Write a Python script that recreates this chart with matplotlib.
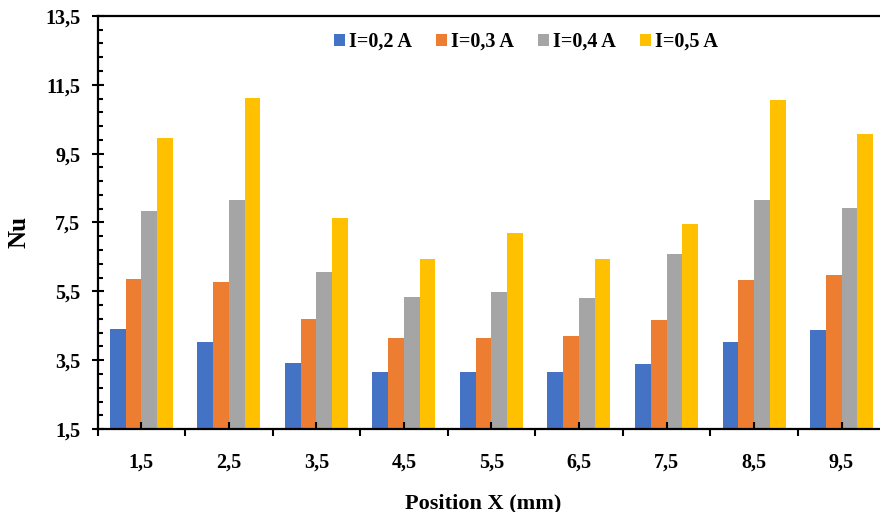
import numpy as np
import matplotlib.pyplot as plt
from matplotlib.ticker import FixedLocator, FuncFormatter

plt.rcParams['font.family'] = ['Liberation Serif', 'DejaVu Serif']
plt.rcParams['font.weight'] = 'bold'

positions = ['1,5', '2,5', '3,5', '4,5', '5,5', '6,5', '7,5', '8,5', '9,5']
labels = ['I=0,2 A', 'I=0,3 A', 'I=0,4 A', 'I=0,5 A']
nu_02 = [4.40, 4.04, 3.41, 3.17, 3.17, 3.17, 3.40, 4.03, 4.37]
nu_03 = [5.87, 5.76, 4.69, 4.15, 4.15, 4.19, 4.67, 5.83, 5.97]
nu_04 = [7.84, 8.14, 6.06, 5.34, 5.49, 5.30, 6.57, 8.14, 7.93]
nu_05 = [9.95, 11.11, 7.62, 6.45, 7.20, 6.45, 7.46, 11.05, 10.08]
colors = ['#4472C4', '#ED7D31', '#A5A5A5', '#FFC000']

fig = plt.figure(figsize=(8.8, 5.12), dpi=100)
ax = fig.add_axes([0.111, 0.162, 0.895, 0.807])

x = np.arange(len(positions))
w = 0.18
for i, (vals, lab, c) in enumerate(zip([nu_02, nu_03, nu_04, nu_05], labels, colors)):
    ax.bar(x + (i - 1.5) * w, np.array(vals) - 1.5, w, bottom=1.5,
           color=c, label=lab, edgecolor='none')

ax.set_xlim(-0.5, len(positions) - 0.5)
ax.set_ylim(1.5, 13.5)

ax.set_xticks(x)
ax.set_xticklabels(positions)
ax.xaxis.set_minor_locator(FixedLocator(np.arange(-0.5, len(positions), 1.0)))
ax.tick_params(axis='x', which='major', direction='in', length=5, width=1.5,
               labelsize=14.5, pad=17)
ax.tick_params(axis='x', which='minor', direction='out', length=5, width=1.5)

ax.set_yticks(np.arange(1.5, 13.6, 2.0))
ax.yaxis.set_minor_locator(FixedLocator(np.arange(1.5, 13.5, 0.4)))
ax.yaxis.set_major_formatter(FuncFormatter(lambda v, p: ('%.1f' % v).replace('.', ',')))
ax.tick_params(axis='y', which='major', direction='inout', length=9, width=1.5,
               labelsize=14.5, pad=8)
ax.tick_params(axis='y', which='minor', direction='in', length=3.5, width=1.5)

for s in ['left', 'bottom', 'top']:
    ax.spines[s].set_linewidth(1.6)
ax.spines['right'].set_visible(False)

ax.set_xlabel('Position X (mm)', fontsize=16, fontweight='bold')
ax.set_ylabel('Nu', fontsize=18, fontweight='bold')
ax.xaxis.set_label_coords(0.49, -0.155)
ax.yaxis.set_label_coords(-0.085, 0.477)

ax.legend(loc='center', bbox_to_anchor=(0.544, 0.937), ncol=4, frameon=False,
          fontsize=14.5, handlelength=0.55, handleheight=0.55,
          handletextpad=0.2, columnspacing=1.2)

fig.savefig('out.png', dpi=100)
